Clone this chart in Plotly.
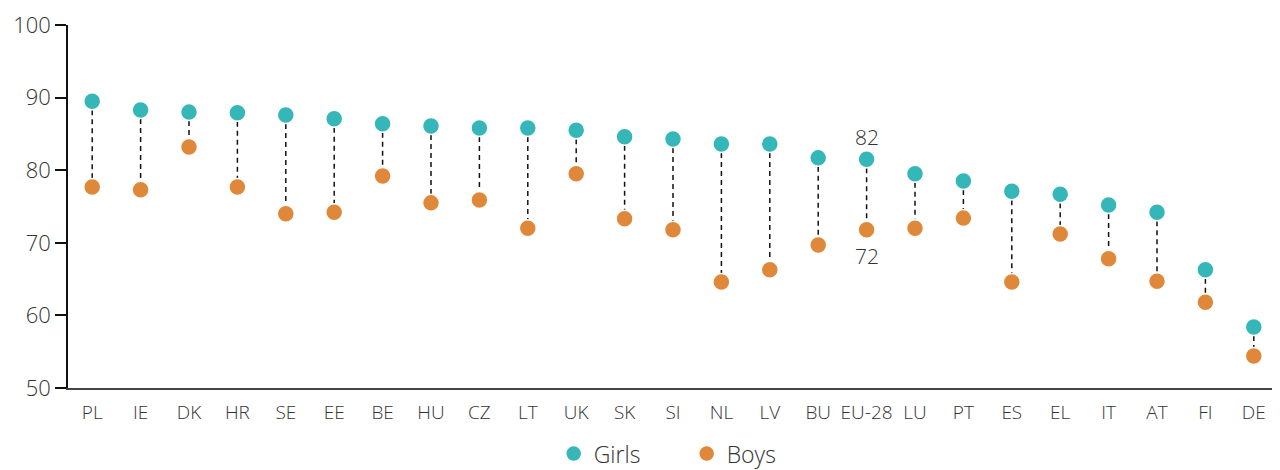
import plotly.graph_objects as go

countries = ["PL", "IE", "DK", "HR", "SE", "EE", "BE", "HU", "CZ", "LT", "UK", "SK", "SI",
             "NL", "LV", "BU", "EU-28", "LU", "PT", "ES", "EL", "IT", "AT", "FI", "DE"]
girls = [89.5, 88.3, 88.0, 87.9, 87.6, 87.1, 86.4, 86.1, 85.8, 85.8, 85.5, 84.6, 84.3,
         83.6, 83.6, 81.7, 81.5, 79.5, 78.5, 77.1, 76.7, 75.2, 74.2, 66.3, 58.4]
boys = [77.7, 77.3, 83.2, 77.7, 74.0, 74.2, 79.2, 75.5, 75.9, 72.0, 79.5, 73.3, 71.8,
        64.6, 66.3, 69.7, 71.8, 72.0, 73.4, 64.6, 71.2, 67.8, 64.7, 61.8, 54.4]
eu_labels = ["82", "72"]

GIRL_C = "#35B6B9"
BOY_C = "#E0883A"
TXT = "#333333"
FONT = "Open Sans"

lx, ly = [], []
for c, g, b in zip(countries, girls, boys):
    lx += [c, c, None]
    ly += [g, b, None]

fig = go.Figure()
fig.add_trace(go.Scatter(x=lx, y=ly, mode="lines", showlegend=False, hoverinfo="skip",
                         line=dict(color="#111111", width=1.5, dash="5px,4px")))
fig.add_trace(go.Scatter(x=countries, y=girls, mode="markers", name="Girls",
                         marker=dict(color=GIRL_C, size=17, line=dict(color="white", width=1.5))))
fig.add_trace(go.Scatter(x=countries, y=boys, mode="markers", name="Boys",
                         marker=dict(color=BOY_C, size=17, line=dict(color="white", width=1.5))))

i = countries.index("EU-28")
fig.add_annotation(x=countries[i], y=girls[i], text=eu_labels[0], showarrow=False,
                   yshift=22, font=dict(family=FONT, size=21, color=TXT, weight=300))
fig.add_annotation(x=countries[i], y=boys[i], text=eu_labels[1], showarrow=False,
                   yshift=-26, font=dict(family=FONT, size=21, color=TXT, weight=300))

# page has an 8px body margin, so the figure is sized/offset to compensate
fig.update_layout(
    width=1272, height=462,
    margin=dict(l=60, r=2, t=17, b=82, autoexpand=False),
    paper_bgcolor="white", plot_bgcolor="white",
    font=dict(family=FONT, color=TXT, weight=300),
    legend=dict(orientation="h", xref="container", yref="container",
                x=0.429, xanchor="left", y=0.082, yanchor="top",
                font=dict(family=FONT, size=23, color=TXT, weight=300), itemsizing="trace",
                entrywidth=88, entrywidthmode="pixels", tracegroupgap=0),
)
fig.update_xaxes(type="category", range=[-0.5, len(countries) - 0.5], showgrid=False,
                 automargin=False,
                 showline=True, linecolor="#444444", linewidth=1.5, ticks="",
                 tickfont=dict(family=FONT, size=19, color=TXT, weight=300), ticklabelstandoff=6)
fig.update_yaxes(range=[50, 100], tickvals=[50, 60, 70, 80, 90, 100], showgrid=False,
                 automargin=False,
                 zeroline=False, showline=True, linecolor="#111111", linewidth=1.5,
                 ticks="outside", ticklen=11, tickcolor="#111111", tickwidth=1.5,
                 tickfont=dict(family=FONT, size=22, color=TXT, weight=300))

fig.write_html("out.html")
